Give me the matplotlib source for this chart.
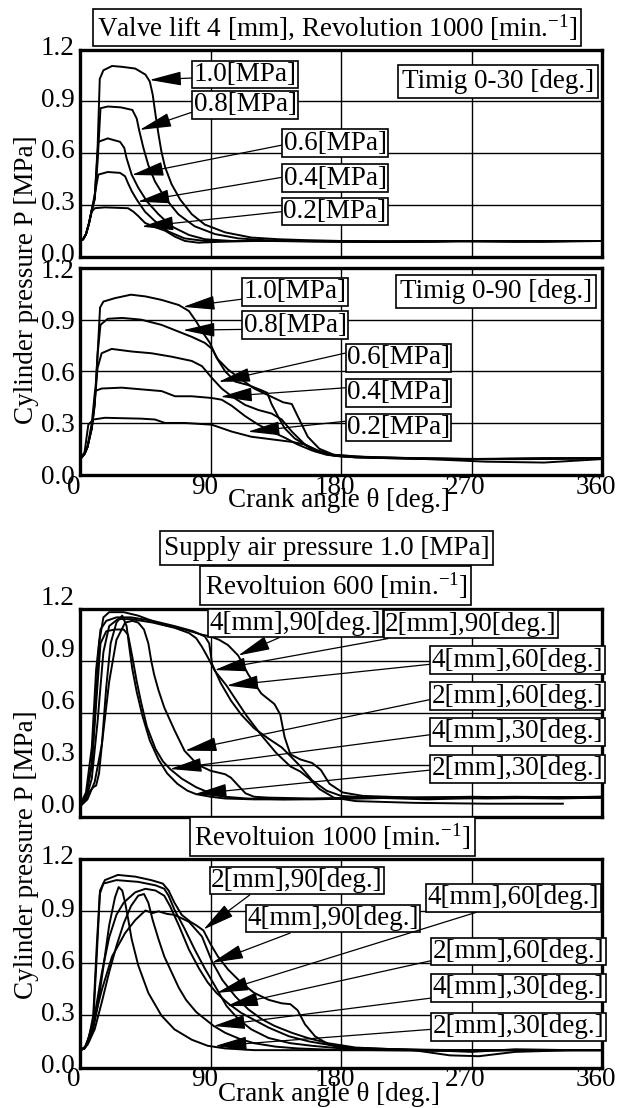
import matplotlib
matplotlib.use("Agg")
import matplotlib.pyplot as plt
from matplotlib.transforms import ScaledTranslation

plt.rcParams['font.family'] = ['Liberation Serif', 'DejaVu Serif']
plt.rcParams['mathtext.fontset'] = 'custom'
plt.rcParams['mathtext.rm'] = 'Liberation Serif'
plt.rcParams['mathtext.it'] = 'Liberation Serif:italic'
plt.rcParams['font.size'] = 19.5

x_ticks = [0, 90, 180, 270, 360]
x_tick_labels = ['0', '90', '180', '270', '360']
y_ticks = [0.0, 0.3, 0.6, 0.9, 1.2]
y_tick_labels = ['0.0', '0.3', '0.6', '0.9', '1.2']

# --- panel 1: valve lift 4 mm, 1000 min-1, timing 0-30 deg
p1_th_10 = [0, 2, 4, 6, 8, 10, 12, 13.5, 16, 22, 29, 38, 45, 48, 50, 52, 54, 56, 58.5, 63, 69, 77, 86, 100, 118, 137, 155, 180, 220, 260, 300, 340, 360]
p1_p_10 = [0.09, 0.10, 0.13, 0.19, 0.27, 0.34, 0.63, 1.03, 1.08, 1.105, 1.10, 1.09, 1.055, 1.015, 0.94, 0.82, 0.71, 0.61, 0.52, 0.42, 0.33, 0.245, 0.185, 0.14, 0.11, 0.10, 0.095, 0.09, 0.085, 0.09, 0.085, 0.09, 0.09]
p1_th_08 = [0, 2, 4, 6, 8, 10, 12, 14, 19, 28, 36, 39, 40.6, 43.6, 47, 51.6, 58.5, 67.7, 79, 93, 109, 127, 150, 200, 260, 320, 360]
p1_p_08 = [0.09, 0.10, 0.13, 0.19, 0.27, 0.33, 0.55, 0.86, 0.87, 0.865, 0.85, 0.80, 0.735, 0.63, 0.53, 0.435, 0.34, 0.245, 0.175, 0.13, 0.105, 0.095, 0.09, 0.085, 0.09, 0.09, 0.09]
p1_th_06 = [0, 2, 4, 6, 8, 10, 12.5, 19, 27.5, 30.4, 32, 35.5, 40, 46, 54, 63, 75, 86, 105, 130, 180, 240, 300, 360]
p1_p_06 = [0.09, 0.10, 0.13, 0.19, 0.27, 0.34, 0.665, 0.685, 0.665, 0.63, 0.57, 0.475, 0.40, 0.32, 0.245, 0.175, 0.125, 0.10, 0.09, 0.09, 0.085, 0.09, 0.09, 0.09]
p1_th_04 = [0, 2, 4, 6, 8, 10, 12.5, 19, 27.5, 31, 33, 35.5, 39, 44.7, 51.6, 60.8, 72, 86, 105, 140, 200, 260, 320, 360]
p1_p_04 = [0.09, 0.10, 0.13, 0.19, 0.27, 0.36, 0.475, 0.49, 0.485, 0.465, 0.425, 0.38, 0.33, 0.26, 0.205, 0.145, 0.105, 0.09, 0.09, 0.09, 0.085, 0.09, 0.085, 0.09]
p1_th_02 = [0, 2, 4, 6, 8, 10, 17, 33, 36.7, 40, 44.7, 51.6, 58.5, 65.4, 72.3, 81.5, 95, 120, 180, 240, 300, 360]
p1_p_02 = [0.09, 0.10, 0.13, 0.19, 0.26, 0.28, 0.285, 0.28, 0.26, 0.235, 0.195, 0.17, 0.15, 0.115, 0.09, 0.08, 0.085, 0.09, 0.09, 0.085, 0.09, 0.09]

# --- panel 2: timing 0-90 deg
p2_th_10 = [0, 3, 5, 8, 10, 11.5, 13.7, 16, 24, 35, 45, 56, 68, 75, 80, 85, 89.5, 94, 100, 107, 116, 125, 129, 132, 137, 141, 148, 155, 162, 170, 180, 200, 240, 280, 320, 360]
p2_p_10 = [0.09, 0.12, 0.16, 0.27, 0.40, 0.62, 0.97, 1.005, 1.025, 1.045, 1.035, 1.015, 0.985, 0.95, 0.89, 0.82, 0.765, 0.68, 0.60, 0.54, 0.52, 0.49, 0.475, 0.41, 0.33, 0.27, 0.21, 0.175, 0.135, 0.115, 0.105, 0.10, 0.095, 0.09, 0.095, 0.095]
p2_th_08 = [0, 3, 5, 8, 10, 12, 14, 19, 29, 42, 56, 68, 77, 86, 91, 95, 102, 110, 120, 130, 140, 146, 150, 157, 165, 175, 190, 230, 270, 310, 360]
p2_p_08 = [0.09, 0.12, 0.16, 0.27, 0.42, 0.70, 0.87, 0.905, 0.91, 0.90, 0.87, 0.83, 0.80, 0.765, 0.73, 0.67, 0.61, 0.56, 0.50, 0.46, 0.42, 0.41, 0.34, 0.22, 0.15, 0.115, 0.105, 0.095, 0.09, 0.09, 0.095]
p2_th_06 = [0, 3, 5, 8, 10, 12, 14.8, 21.7, 35.5, 49, 63, 77, 84, 91, 97.6, 104.5, 113.7, 123, 132, 139, 146, 155, 164, 175, 190, 240, 280, 320, 360]
p2_p_06 = [0.09, 0.12, 0.16, 0.27, 0.42, 0.62, 0.705, 0.73, 0.715, 0.705, 0.685, 0.66, 0.63, 0.56, 0.50, 0.455, 0.405, 0.375, 0.355, 0.32, 0.25, 0.175, 0.135, 0.11, 0.10, 0.09, 0.075, 0.07, 0.09]
p2_th_04 = [0, 3, 5, 8, 10.2, 14.8, 28.6, 42.4, 56.2, 65.4, 76.9, 90.7, 97.6, 104.5, 113.7, 122.9, 132, 141, 150, 160, 172, 190, 240, 300, 360]
p2_p_04 = [0.09, 0.12, 0.16, 0.30, 0.485, 0.50, 0.505, 0.495, 0.485, 0.455, 0.455, 0.445, 0.435, 0.40, 0.34, 0.29, 0.25, 0.215, 0.175, 0.14, 0.115, 0.10, 0.09, 0.09, 0.095]
p2_th_02 = [0, 3, 5.6, 9.1, 17, 42, 51.6, 58.5, 72, 90.7, 97.6, 104.5, 118, 132, 146, 155, 164, 175, 200, 260, 320, 360]
p2_p_02 = [0.09, 0.13, 0.29, 0.32, 0.33, 0.325, 0.32, 0.30, 0.30, 0.29, 0.27, 0.25, 0.22, 0.205, 0.19, 0.175, 0.14, 0.115, 0.10, 0.09, 0.095, 0.095]

# --- panel 3: supply 1.0 MPa, 600 min-1
p3_th_4_90 = [0, 4, 8, 11, 13, 16, 20, 30, 40, 56, 72, 84, 90, 96, 102, 109, 116, 125, 134, 138, 141, 145, 152, 160, 166, 172, 181, 195, 230, 270, 310, 360]
p3_p_4_90 = [0.07, 0.12, 0.30, 0.70, 1.00, 1.15, 1.18, 1.18, 1.16, 1.11, 1.08, 1.05, 1.04, 1.02, 0.99, 0.93, 0.82, 0.71, 0.65, 0.59, 0.46, 0.36, 0.33, 0.31, 0.27, 0.19, 0.14, 0.12, 0.11, 0.115, 0.11, 0.115]
p3_th_2_90 = [0, 4, 8, 11, 14, 18, 25, 35, 50, 65, 78, 86, 89, 91, 97, 104, 111, 120, 130, 139, 145, 152, 160, 170, 180, 200, 240, 280, 330, 360]
p3_p_2_90 = [0.07, 0.14, 0.40, 0.85, 1.08, 1.13, 1.15, 1.15, 1.13, 1.10, 1.07, 1.04, 1.00, 0.88, 0.77, 0.67, 0.59, 0.51, 0.45, 0.40, 0.35, 0.29, 0.21, 0.15, 0.12, 0.11, 0.10, 0.11, 0.105, 0.11]
p3_th_4_60 = [0, 4, 8, 12, 16, 20, 26, 35, 50, 65, 75, 80, 84, 88, 93, 101, 107, 115, 125, 135, 145, 152, 158, 165, 175, 190, 230, 280, 333]
p3_p_4_60 = [0.06, 0.10, 0.22, 0.55, 0.95, 1.10, 1.14, 1.14, 1.12, 1.09, 1.06, 1.03, 0.98, 0.92, 0.84, 0.756, 0.68, 0.58, 0.47, 0.37, 0.29, 0.26, 0.22, 0.16, 0.11, 0.09, 0.08, 0.075, 0.075]
p3_th_2_60 = [0, 5, 10, 15, 20, 25, 31, 36, 40, 44, 47, 49, 51, 54, 58, 65, 72, 81, 90, 100, 104, 109, 114, 120, 130, 160, 200, 260, 300, 360]
p3_p_2_60 = [0.06, 0.10, 0.20, 0.42, 0.78, 1.02, 1.12, 1.13, 1.12, 1.08, 1.00, 0.90, 0.82, 0.73, 0.63, 0.50, 0.38, 0.30, 0.265, 0.245, 0.225, 0.18, 0.135, 0.115, 0.11, 0.105, 0.11, 0.11, 0.115, 0.11]
p3_th_4_30 = [0, 4, 8, 11, 14, 18, 24, 30, 33, 36, 39, 42, 46, 52, 57, 62, 70, 80, 90, 100, 115, 140, 180, 240, 300, 360]
p3_p_4_30 = [0.07, 0.12, 0.30, 0.65, 1.00, 1.07, 1.08, 1.08, 1.05, 0.92, 0.78, 0.66, 0.52, 0.39, 0.32, 0.275, 0.22, 0.17, 0.135, 0.115, 0.105, 0.10, 0.105, 0.11, 0.11, 0.115]
p3_th_2_30 = [0, 3, 6, 9, 11, 13, 15, 18, 21, 25, 29, 32, 34, 36, 39, 43, 48, 54, 60, 67, 74, 80, 90, 100, 120, 160, 220, 280, 330, 360]
p3_p_2_30 = [0.07, 0.10, 0.14, 0.17, 0.18, 0.25, 0.42, 0.75, 1.00, 1.12, 1.16, 1.10, 0.97, 0.85, 0.72, 0.58, 0.44, 0.33, 0.25, 0.19, 0.15, 0.13, 0.115, 0.105, 0.10, 0.10, 0.11, 0.105, 0.11, 0.11]

# --- panel 4: supply 1.0 MPa, 1000 min-1
p4_th_2_90 = [0, 3, 6, 9, 11.4, 13.7, 17, 26, 38, 49, 57, 61, 65, 70, 76, 80, 85, 90, 95, 102, 111, 120, 130, 139, 145, 150, 155, 162, 172, 180, 200, 240, 270, 300, 340, 360]
p4_p_2_90 = [0.10, 0.11, 0.16, 0.26, 0.64, 1.02, 1.08, 1.11, 1.10, 1.08, 1.06, 1.02, 0.95, 0.88, 0.84, 0.82, 0.79, 0.71, 0.64, 0.565, 0.49, 0.43, 0.39, 0.37, 0.365, 0.33, 0.25, 0.18, 0.13, 0.115, 0.11, 0.10, 0.09, 0.105, 0.10, 0.10]
p4_th_2_60 = [0, 3, 6, 9, 11.4, 13.5, 16, 25, 40, 52, 58, 61, 65, 72, 79, 86, 93, 101, 109, 118, 130, 145, 160, 180, 220, 260, 300, 360]
p4_p_2_60 = [0.10, 0.11, 0.17, 0.30, 0.70, 1.00, 1.06, 1.08, 1.07, 1.05, 1.03, 0.99, 0.91, 0.80, 0.68, 0.57, 0.47, 0.354, 0.28, 0.22, 0.17, 0.14, 0.125, 0.11, 0.105, 0.10, 0.10, 0.10]
p4_th_4_90 = [0, 3, 8, 15, 22, 31, 38, 45, 50, 54, 60, 65, 75, 84, 91, 98, 107, 116, 125, 134, 146, 157, 171, 190, 230, 255, 275, 300, 340, 360]
p4_p_4_90 = [0.10, 0.11, 0.22, 0.45, 0.64, 0.775, 0.85, 0.905, 0.89, 0.90, 0.885, 0.88, 0.84, 0.755, 0.61, 0.505, 0.41, 0.335, 0.28, 0.24, 0.20, 0.17, 0.14, 0.115, 0.10, 0.07, 0.065, 0.09, 0.10, 0.10]
p4_th_4_60 = [0, 4, 10, 15, 20, 25, 30, 38, 45, 52, 58, 62, 68, 75, 82, 88, 94, 102, 111, 121, 130, 144, 158, 172, 190, 230, 280, 330, 360]
p4_p_4_60 = [0.10, 0.12, 0.30, 0.55, 0.75, 0.88, 0.95, 1.01, 1.03, 1.02, 0.99, 0.93, 0.82, 0.68, 0.57, 0.49, 0.43, 0.37, 0.315, 0.27, 0.23, 0.18, 0.15, 0.13, 0.11, 0.10, 0.10, 0.10, 0.10]
p4_th_4_30 = [0, 5, 10, 15, 20, 25, 30, 35, 40, 44, 47, 50, 54, 58, 63, 68, 73, 80, 86, 92, 100, 110, 120, 135, 150, 180, 240, 300, 360]
p4_p_4_30 = [0.10, 0.13, 0.22, 0.38, 0.55, 0.70, 0.83, 0.93, 0.99, 1.00, 0.95, 0.85, 0.74, 0.64, 0.55, 0.46, 0.39, 0.32, 0.28, 0.24, 0.20, 0.165, 0.14, 0.12, 0.11, 0.10, 0.10, 0.10, 0.10]
p4_th_2_30 = [0, 3, 6, 9, 12, 16, 20, 24, 26.5, 29, 31, 33, 35.5, 40, 47, 56, 65, 77, 88, 100, 120, 150, 200, 260, 300, 360]
p4_p_2_30 = [0.10, 0.11, 0.15, 0.22, 0.35, 0.58, 0.82, 0.98, 1.04, 1.02, 0.95, 0.86, 0.74, 0.59, 0.43, 0.30, 0.22, 0.16, 0.125, 0.11, 0.10, 0.10, 0.10, 0.095, 0.10, 0.10]

W, H = 617, 1108
FS = 19.5
fig = plt.figure(figsize=(W / 100, H / 100), dpi=100)


def make_axes(top, bottom, show_x, dy):
    ax = fig.add_axes([80.2 / W, 1 - bottom / H, 521.8 / W, (bottom - top) / H])
    ax.set_xlim(0, 360)
    ax.set_ylim(0, 1.2)
    ax.set_xticks(x_ticks, x_tick_labels if show_x else [])
    ax.set_yticks(y_ticks, y_tick_labels)
    ax.grid(True, color='k', lw=1.0)
    ax.tick_params(length=0, labelsize=FS)
    ax.tick_params(axis='y', pad=4)
    ax.tick_params(axis='x', pad=0)
    for s in ax.spines.values():
        s.set_linewidth(2.4)
    up = ScaledTranslation(0, dy / 100, fig.dpi_scale_trans)
    for lab in ax.get_yticklabels():
        lab.set_transform(lab.get_transform() + up)
    left = ScaledTranslation(-6 / 100, 0, fig.dpi_scale_trans)
    for lab in ax.get_xticklabels():
        lab.set_transform(lab.get_transform() + left)
    return ax


def tag(ax, text, xy, xytext, rel):
    ax.annotate(text, xy=xy, xytext=xytext, ha='center', va='center', fontsize=FS,
                bbox=dict(boxstyle='square,pad=0.05', fc='w', ec='k', lw=1.2),
                arrowprops=dict(arrowstyle='-|>,head_length=1.0,head_width=0.22',
                                mutation_scale=20, lw=0.9, color='k',
                                shrinkA=0, shrinkB=0, relpos=rel),
                zorder=5, annotation_clip=False)


def title(ax, text, fx, fy):
    ax.text(fx, fy, text, transform=ax.transAxes, ha='center', va='center', fontsize=FS,
            bbox=dict(boxstyle='square,pad=0.15', fc='w', ec='k', lw=1.2), zorder=6)


lw = 1.4
ax1 = make_axes(49.6, 256.5, False, 4.3)
ax2 = make_axes(268.0, 474.6, True, 0)
ax3 = make_axes(608.7, 816.7, False, 13.3)
ax4 = make_axes(859.3, 1067.5, True, 4.3)

for th, p in [(p1_th_10, p1_p_10), (p1_th_08, p1_p_08), (p1_th_06, p1_p_06),
              (p1_th_04, p1_p_04), (p1_th_02, p1_p_02)]:
    ax1.plot(th, p, color='k', lw=lw)
for th, p in [(p2_th_10, p2_p_10), (p2_th_08, p2_p_08), (p2_th_06, p2_p_06),
              (p2_th_04, p2_p_04), (p2_th_02, p2_p_02)]:
    ax2.plot(th, p, color='k', lw=lw)
for th, p in [(p3_th_4_90, p3_p_4_90), (p3_th_2_90, p3_p_2_90), (p3_th_4_60, p3_p_4_60),
              (p3_th_2_60, p3_p_2_60), (p3_th_4_30, p3_p_4_30), (p3_th_2_30, p3_p_2_30)]:
    ax3.plot(th, p, color='k', lw=lw)
for th, p in [(p4_th_2_90, p4_p_2_90), (p4_th_2_60, p4_p_2_60), (p4_th_4_90, p4_p_4_90),
              (p4_th_4_60, p4_p_4_60), (p4_th_4_30, p4_p_4_30), (p4_th_2_30, p4_p_2_30)]:
    ax4.plot(th, p, color='k', lw=lw)

# panel 1 labels
title(ax1, 'Valve lift 4 [mm], Revolution 1000 [min.$^{-1}$]', 0.492, 1.107)
ax1.text(288.5, 1.015, 'Timig 0-30 [deg.]', ha='center', va='center', fontsize=FS,
         bbox=dict(boxstyle='square,pad=0.15', fc='w', ec='k', lw=1.2), zorder=6)
tag(ax1, '1.0[MPa]', (47.8, 1.024), (113.7, 1.056), (0, 0.36))
tag(ax1, '0.8[MPa]', (41.0, 0.734), (113.7, 0.879), (0, 0.23))
tag(ax1, '0.6[MPa]', (35.6, 0.473), (175.8, 0.658), (0, 0.43))
tag(ax1, '0.4[MPa]', (39.7, 0.318), (175.8, 0.455), (0, 0.54))
tag(ax1, '0.2[MPa]', (42.4, 0.173), (175.8, 0.261), (0, 0.5))

# panel 2 labels
ax2.text(286.8, 1.061, 'Timig 0-90 [deg.]', ha='center', va='center', fontsize=FS,
         bbox=dict(boxstyle='square,pad=0.15', fc='w', ec='k', lw=1.2), zorder=6)
tag(ax2, '1.0[MPa]', (70.9, 0.974), (148.3, 1.061), (0, 0.22))
tag(ax2, '0.8[MPa]', (70.9, 0.839), (148.3, 0.868), (0, 0.33))
tag(ax2, '0.6[MPa]', (95.4, 0.539), (219.6, 0.679), (0, 0.7))
tag(ax2, '0.4[MPa]', (96.7, 0.452), (219.6, 0.476), (0, 0.7))
tag(ax2, '0.2[MPa]', (115.7, 0.249), (219.6, 0.273), (0, 0.76))
ax2.set_xlabel('Crank angle θ [deg.]', fontsize=FS, va='center')
ax2.xaxis.set_label_coords(0.496, -0.123)

# panel 3 labels
title(ax3, 'Supply air pressure 1.0 [MPa]', 0.4722, 1.2918)
title(ax3, 'Revoltuion 600 [min.$^{-1}$]', 0.4902, 1.1115)
tag(ax3, '4[mm],90[deg.]', (109.0, 0.93), (148.6, 1.116), (0.43, 0))
tag(ax3, '2[mm],90[deg.]', (92.6, 0.846), (269.5, 1.111), (0.08, 0))
tag(ax3, '4[mm],60[deg.]', (101.0, 0.756), (301.7, 0.902), (0, 0.35))
tag(ax3, '2[mm],60[deg.]', (72.3, 0.381), (301.7, 0.695), (0, 0.38))
tag(ax3, '4[mm],30[deg.]', (61.9, 0.275), (301.7, 0.49), (0, 0.39))
tag(ax3, '2[mm],30[deg.]', (79.2, 0.131), (301.7, 0.277), (0, 0.45))

# panel 4 labels
title(ax4, 'Revoltuion 1000 [min.$^{-1}$]', 0.4835, 1.1095)
tag(ax4, '2[mm],90[deg.]', (85.0, 0.795), (149.6, 1.078), (0.24, 0))
tag(ax4, '4[mm],90[deg.]', (90.7, 0.603), (174.4, 0.858), (0.28, 0))
tag(ax4, '4[mm],60[deg.]', (94.2, 0.43), (299.0, 0.978), (0.32, 0))
tag(ax4, '2[mm],60[deg.]', (101.0, 0.354), (302.4, 0.668), (0, 0.15))
tag(ax4, '4[mm],30[deg.]', (91.8, 0.239), (302.4, 0.459), (0, 0.1))
tag(ax4, '2[mm],30[deg.]', (93.0, 0.124), (302.4, 0.235), (0, 0.4))
ax4.set_xlabel('Crank angle θ [deg.]', fontsize=FS, va='center')
ax4.xaxis.set_label_coords(0.476, -0.132)

fig.text(27 / W, 1 - 280 / H, 'Cylinder pressure P [MPa]', rotation=90,
         ha='center', va='center', fontsize=FS)
fig.text(27 / W, 1 - 855 / H, 'Cylinder pressure P [MPa]', rotation=90,
         ha='center', va='center', fontsize=FS)

fig.savefig('out.png', dpi=100)
